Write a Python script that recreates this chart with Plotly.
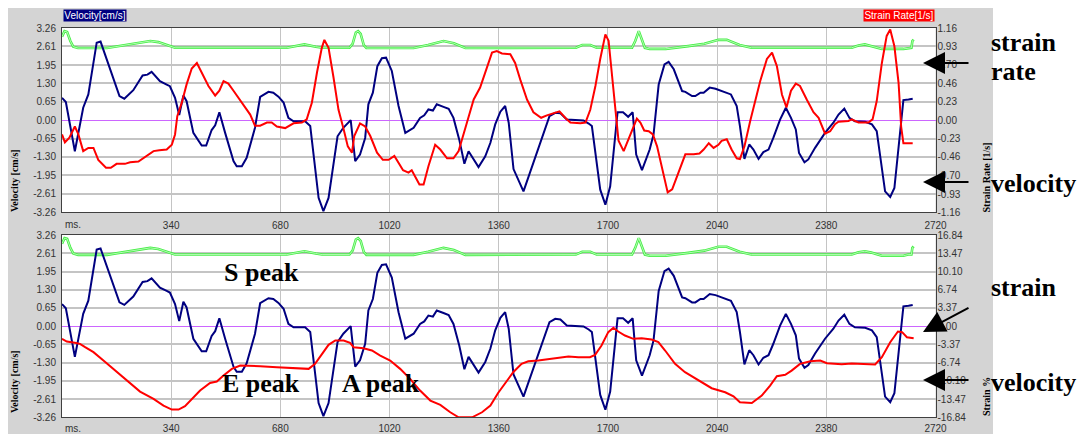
import plotly.graph_objects as go

W, H = 1082, 434

# ---------------- data ----------------
# velocity [cm/s] (same trace in both panels)
t_vel = [0, 12, 40, 66, 82, 108, 120, 150, 179, 194, 222, 251, 266, 279, 305, 326, 336, 352, 365, 378, 388,
         409, 435, 449, 466, 477, 490, 508, 534, 544, 560, 575, 601, 617, 643, 658, 674, 690, 705, 721, 757,
         773, 799, 814, 830, 858, 876, 899, 913, 928, 944, 954, 968, 982, 996, 1009, 1027, 1048, 1069, 1095,
         1115, 1128, 1141, 1155, 1167, 1188, 1204, 1219, 1237, 1253, 1266, 1297, 1318, 1334, 1349, 1365, 1380,
         1391, 1406, 1437, 1468, 1495, 1518, 1536, 1552, 1572, 1624, 1640, 1650, 1676, 1692, 1707, 1730, 1747,
         1763, 1777, 1788, 1806, 1830, 1842, 1858, 1876, 1889, 1905, 1931, 1941, 1962, 1972, 1988, 1998, 2017,
         2035, 2059, 2083, 2101, 2111, 2125, 2140, 2153, 2169, 2184, 2200, 2215, 2236, 2254, 2270, 2285, 2295,
         2312, 2324, 2345, 2376, 2402, 2418, 2436, 2452, 2469, 2501, 2522, 2537, 2563, 2579, 2592, 2620, 2636,
         2649]
vel = [0.79, 0.64, -1.10, 0.44, 0.91, 2.74, 2.78, 1.80, 0.85, 0.76, 1.06, 1.58, 1.61, 1.71, 1.38, 1.26, 1.20,
       0.79, 0.18, 0.87, 0.67, -0.45, -0.90, -0.90, -0.35, -0.18, 0.28, -0.45, -1.45, -1.63, -1.63, -1.33,
       -0.27, 0.82, 1.00, 0.97, 0.83, 0.62, 0.08, -0.04, -0.04, -0.21, -2.75, -3.22, -2.75, -0.57, -0.27, 0.00,
       -1.45, -1.22, -0.63, 0.56, 0.97, 1.91, 2.19, 2.21, 1.74, 0.50, -0.45, -0.27, 0.08, 0.17, 0.38, 0.34,
       0.56, 0.47, 0.40, 0.08, -0.69, -1.54, -1.10, -1.66, -1.28, -0.80, -0.15, 0.30, 0.50, -0.09, -1.73,
       -2.52, -1.51, -0.69, 0.14, 0.26, 0.24, 0.02, -0.01, -0.12, -0.21, -2.46, -2.99, -2.34, 0.28, 0.28,
       0.12, 0.28, -1.22, -1.77, -1.04, -0.51, 1.26, 1.97, 2.06, 1.80, 1.03, 1.00, 0.85, 0.85, 0.97, 0.97,
       1.15, 1.11, 1.00, 0.91, 0.50, -0.21, -1.37, -0.86, -1.04, -1.37, -1.13, -1.04, -0.63, 0.02, 0.44,
       0.08, -0.33, -1.16, -1.49, -1.39, -0.98, -0.45, -0.09, 0.20, 0.41, 0.08, -0.04, -0.06, -0.15, -0.39,
       -2.52, -2.72, -2.40, 0.71, 0.73, 0.76]

# strain rate [1/s] (top panel, right axis)
t_sr = [0, 9, 23, 40, 51, 66, 82, 98, 113, 137, 152, 170, 196, 212, 238, 262, 285, 303, 326, 342, 352, 359,
        373, 388, 404, 420, 435, 456, 477, 490, 503, 518, 534, 560, 586, 601, 617, 638, 653, 669, 695, 721,
        747, 762, 778, 794, 809, 817, 830, 845, 861, 876, 890, 903, 910, 928, 944, 960, 981, 999, 1017, 1035,
        1048, 1062, 1079, 1089, 1113, 1126, 1141, 1162, 1178, 1199, 1219, 1235, 1261, 1282, 1302, 1323, 1339,
        1354, 1370, 1396, 1411, 1427, 1448, 1468, 1492, 1510, 1531, 1549, 1567, 1583, 1614, 1630, 1645, 1661,
        1676, 1692, 1702, 1716, 1733, 1749, 1764, 1778, 1790, 1801, 1813, 1827, 1840, 1853, 1868, 1886, 1900,
        1920, 1941, 1967, 1985, 1998, 2014, 2029, 2044, 2054, 2070, 2085, 2101, 2111, 2125, 2143, 2158, 2174,
        2195, 2211, 2226, 2242, 2256, 2270, 2285, 2298, 2319, 2340, 2356, 2376, 2392, 2407, 2418, 2449, 2459,
        2480, 2511, 2524, 2537, 2553, 2568, 2579, 2592, 2605, 2613, 2620, 2649]
sr = [-0.18, -0.28, -0.22, -0.08, -0.18, -0.39, -0.35, -0.35, -0.50, -0.60, -0.60, -0.55, -0.55, -0.53,
      -0.52, -0.45, -0.39, -0.38, -0.37, -0.31, -0.18, 0.05, 0.22, 0.45, 0.65, 0.72, 0.60, 0.43, 0.31, 0.37,
      0.49, 0.46, 0.37, 0.22, 0.07, -0.07, -0.07, -0.03, -0.03, -0.08, -0.10, -0.04, -0.03, 0.01, 0.22, 0.60,
      0.91, 1.01, 0.91, 0.55, 0.13, -0.10, -0.33, -0.41, -0.20, -0.04, -0.08, -0.20, -0.41, -0.50, -0.50,
      -0.45, -0.53, -0.63, -0.66, -0.63, -0.81, -0.81, -0.58, -0.31, -0.37, -0.48, -0.48, -0.39, -0.03, 0.26,
      0.41, 0.66, 0.85, 0.87, 0.84, 0.83, 0.72, 0.51, 0.26, 0.10, 0.03, 0.06, 0.09, 0.11, 0.03, -0.03, -0.04,
      -0.03, 0.13, 0.43, 0.77, 1.08, 1.00, 0.47, -0.26, -0.39, -0.24, -0.12, 0.02, -0.03, -0.13, -0.14,
      -0.18, -0.33, -0.60, -0.91, -0.87, -0.66, -0.43, -0.43, -0.42, -0.37, -0.29, -0.35, -0.31, -0.26,
      -0.24, -0.37, -0.48, -0.49, -0.33, -0.01, 0.22, 0.49, 0.77, 0.85, 0.68, 0.32, 0.16, 0.37, 0.46, 0.43,
      0.26, 0.10, 0.03, -0.17, -0.14, -0.05, -0.02, -0.01, 0.01, -0.03, -0.03, 0.01, 0.24, 0.72, 1.06, 1.14,
      0.93, 0.47, -0.08, -0.29, -0.29]

# strain [%] (bottom panel, right axis)
t_strain = [0, 15, 40, 56, 72, 98, 129, 160, 202, 243, 285, 316, 342, 363, 383, 404, 430, 461, 482, 503, 529,
            555, 575, 617, 669, 721, 768, 788, 809, 830, 851, 877, 897, 908, 939, 965, 991, 1022, 1053, 1084,
            1115, 1147, 1178, 1209, 1235, 1277, 1308, 1334, 1358, 1379, 1405, 1431, 1452, 1483, 1514, 1545,
            1577, 1608, 1644, 1660, 1680, 1701, 1717, 1732, 1753, 1779, 1805, 1836, 1857, 1878, 1909, 1940,
            1982, 2023, 2065, 2091, 2111, 2148, 2179, 2205, 2226, 2252, 2272, 2298, 2330, 2361, 2382, 2428,
            2459, 2490, 2532, 2553, 2579, 2603, 2616, 2631, 2652]
strain = [-2.34, -2.84, -3.08, -3.27, -3.89, -4.81, -6.35, -7.89, -10.05, -12.09, -13.45, -14.68, -15.42,
          -15.42, -14.80, -13.45, -11.90, -10.49, -10.24, -9.13, -7.89, -7.28, -7.28, -7.40, -7.59, -7.77,
          -7.89, -6.97, -5.12, -3.45, -2.65, -2.65, -3.08, -3.89, -4.07, -4.50, -5.43, -6.35, -7.89, -9.75,
          -11.90, -13.75, -14.56, -15.91, -16.84, -16.84, -15.91, -14.68, -12.34, -10.67, -8.51, -6.97,
          -6.48, -6.35, -6.10, -5.92, -5.61, -5.74, -5.74, -5.30, -3.58, -1.11, -0.31, -0.99, -1.73, -2.34,
          -2.22, -2.47, -2.96, -4.50, -6.97, -8.51, -10.05, -11.47, -12.21, -12.95, -14.06, -14.19, -12.82,
          -10.98, -9.25, -9.00, -8.21, -6.97, -6.48, -6.35, -6.85, -7.03, -6.91, -7.03, -7.09, -5.74, -2.96,
          -0.99, -1.11, -2.04, -2.22]

# ECG trace (drawn on the velocity scale)
t_ecg = [0, 8, 16, 26, 35, 50, 140, 200, 250, 275, 300, 330, 352, 700, 730, 755, 790, 810, 895, 905, 915,
         922, 930, 940, 948, 1095, 1140, 1188, 1220, 1256, 1600, 1620, 1645, 1665, 1775, 1785, 1796, 1806,
         1815, 1830, 1880, 1950, 2000, 2044, 2070, 2110, 2147, 2459, 2480, 2500, 2520, 2553, 2620, 2635,
         2645, 2648, 2652]
ecg = [2.95, 3.15, 3.12, 2.80, 2.60, 2.55, 2.55, 2.66, 2.76, 2.80, 2.76, 2.64, 2.56, 2.56, 2.64, 2.68, 2.60,
       2.56, 2.56, 2.70, 3.10, 3.15, 3.05, 2.65, 2.55, 2.55, 2.66, 2.80, 2.72, 2.55, 2.56, 2.66, 2.66, 2.56,
       2.56, 2.80, 3.15, 2.80, 2.56, 2.52, 2.52, 2.62, 2.70, 2.84, 2.84, 2.66, 2.56, 2.56, 2.64, 2.68, 2.63,
       2.52, 2.52, 2.56, 2.56, 2.80, 2.85]

vel_ticks = ["-3.26", "-2.61", "-1.95", "-1.30", "-0.65", "0.00", "0.65", "1.30", "1.95", "2.61", "3.26"]
sr_ticks = ["-1.16", "-0.93", "-0.70", "-0.46", "-0.23", "0.00", "0.23", "0.46", "0.70", "0.93", "1.16"]
strain_ticks = ["-16.84", "-13.47", "-10.10", "-6.74", "-3.37", "0.00", "3.37", "6.74", "10.10", "13.47", "16.84"]
time_ticks = ["340", "680", "1020", "1360", "1700", "2040", "2380", "2720"]

# ---------------- styling ----------------
NAVY = "#000080"
RED = "#FF0000"
GREEN = "#44EE44"
GREEN_IN = "#D0FFD0"
GRID = "#C4C4C4"
PANEL = "#D4D4D4"
TICKFONT = dict(family="Liberation Sans, Arial", size=10, color="#333333")


def px(x):
    return x / W


def py(y):
    return 1 - y / H


X0, X1 = 62, 935.5
TOP = (28, 212.3)
BOT = (235, 417.3)

fig = go.Figure()


def add_panel(xa, ya, ya_right, red_t, red_v):
    for width, col in ((2.6, GREEN), (0.8, GREEN_IN)):
        fig.add_trace(go.Scatter(x=t_ecg, y=ecg, xaxis=xa, yaxis=ya, mode="lines",
                                 line=dict(color=col, width=width), hoverinfo="skip", showlegend=False))
    fig.add_trace(go.Scatter(x=red_t, y=red_v, xaxis=xa, yaxis=ya_right, mode="lines",
                             line=dict(color=RED, width=2), hoverinfo="skip", showlegend=False))
    fig.add_trace(go.Scatter(x=t_vel, y=vel, xaxis=xa, yaxis=ya, mode="lines",
                             line=dict(color=NAVY, width=2), hoverinfo="skip", showlegend=False))


add_panel("x", "y", "y2", t_sr, sr)
add_panel("x2", "y3", "y4", t_strain, strain)

time_vals = [float(s) for s in time_ticks]


def xaxis_cfg(anchor, standoff):
    return dict(domain=[px(X0), px(X1)], range=[0, 2720], anchor=anchor,
                tickvals=time_vals, ticktext=time_ticks, tickfont=TICKFONT,
                showgrid=True, gridcolor=GRID, gridwidth=1, zeroline=False,
                showline=True, mirror=True, linecolor="#404040", linewidth=1,
                ticks="", ticklabelstandoff=standoff, automargin=False, fixedrange=True)


def yaxis_left(dom, anchor):
    return dict(domain=[py(dom[1]), py(dom[0])], range=[-3.26, 3.26], anchor=anchor,
                tickvals=[float(s) for s in vel_ticks], ticktext=vel_ticks, tickfont=TICKFONT,
                showgrid=True, gridcolor=GRID, gridwidth=1.5,
                zeroline=True, zerolinecolor="#CC66FF", zerolinewidth=1,
                showline=True, mirror=True, linecolor="#404040", linewidth=1,
                ticks="", ticklabelstandoff=3, automargin=False, fixedrange=True)


def yaxis_right(labels, overlay, anchor):
    lim = float(labels[-1])
    return dict(range=[-lim, lim], overlaying=overlay, side="right", anchor=anchor,
                tickvals=[float(s) for s in labels], ticktext=labels, tickfont=TICKFONT,
                showgrid=False, zeroline=False, showline=False, ticks="",
                ticklabelstandoff=1, automargin=False, fixedrange=True)


shapes = [
    dict(type="rect", xref="paper", yref="paper", x0=px(8), x1=px(993), y0=0, y1=py(8),
         fillcolor=PANEL, line=dict(width=0), layer="below"),
    dict(type="rect", xref="paper", yref="paper", x0=px(X0), x1=px(X1), y0=py(TOP[1]), y1=py(TOP[0]),
         fillcolor="white", line=dict(width=0), layer="below"),
    dict(type="rect", xref="paper", yref="paper", x0=px(X0), x1=px(X1), y0=py(BOT[1]), y1=py(BOT[0]),
         fillcolor="white", line=dict(width=0), layer="below"),
]

SERIF = "Liberation Serif, Times New Roman, serif"
ann = []

# header boxes
ann.append(dict(text="Velocity[cm/s]", x=px(63), y=py(9), xanchor="left", yanchor="top",
                xref="paper", yref="paper", showarrow=False, bgcolor=NAVY, width=62, height=11,
                borderpad=0, font=dict(family="Liberation Sans, Arial", size=10, color="white")))
ann.append(dict(text="Strain Rate[1/s]", x=px(863), y=py(9), xanchor="left", yanchor="top",
                xref="paper", yref="paper", showarrow=False, bgcolor=RED, width=70, height=11,
                borderpad=0, font=dict(family="Liberation Sans, Arial", size=10, color="white")))

# "ms." labels at time origin
for yy in (224.5, 428.5):
    ann.append(dict(text="ms.", x=px(63), y=py(yy), xanchor="left", yanchor="middle",
                    xref="paper", yref="paper", showarrow=False, font=TICKFONT))

# rotated axis titles
for txt, xx, yy in (("Velocity [cm/s]", 14, 181), ("Velocity [cm/s]", 14, 382),
                    ("Strain Rate [1/s]", 986, 177.5), ("Strain %", 986, 397)):
    ann.append(dict(text=txt, x=px(xx), y=py(yy), xanchor="center", yanchor="middle",
                    xref="paper", yref="paper", showarrow=False, textangle=-90,
                    font=dict(family=SERIF, size=10, color="black", weight="bold")))

BIG = dict(family=SERIF, size=26, color="black", weight="bold")
for txt, xx, yy in (("S peak", 261.5, 272), ("E peak", 260.5, 383), ("A peak", 381, 383)):
    ann.append(dict(text=txt, x=px(xx), y=py(yy), xanchor="center", yanchor="middle",
                    xref="paper", yref="paper", showarrow=False, font=BIG))

for txt, yy in (("strain", 42), ("rate", 72), ("velocity", 184), ("strain", 287), ("velocity", 382)):
    ann.append(dict(text=txt, x=px(989), y=py(yy), xanchor="left", yanchor="middle",
                    xref="paper", yref="paper", showarrow=False, font=BIG))

# arrows
for tipx, tipy, dx, dy in ((923, 63, 47, 0), (923, 182, 47, 0), (923, 332, 47, -25), (923, 380, 47, 0)):
    ann.append(dict(text="", x=px(tipx), y=py(tipy), xref="paper", yref="paper",
                    ax=dx, ay=dy, axref="pixel", ayref="pixel", showarrow=True,
                    arrowhead=2, arrowsize=2.2, arrowwidth=2, arrowcolor="black", standoff=0))

fig.update_layout(
    width=W, height=H, margin=dict(l=0, r=0, t=0, b=0),
    paper_bgcolor="white", plot_bgcolor="white",
    xaxis=xaxis_cfg("y", 4),
    xaxis2=xaxis_cfg("y3", 2),
    yaxis=yaxis_left(TOP, "x"),
    yaxis2=yaxis_right(sr_ticks, "y", "x"),
    yaxis3=yaxis_left(BOT, "x2"),
    yaxis4=yaxis_right(strain_ticks, "y3", "x2"),
    shapes=shapes, annotations=ann, showlegend=False,
)

fig.write_html("out.html")
